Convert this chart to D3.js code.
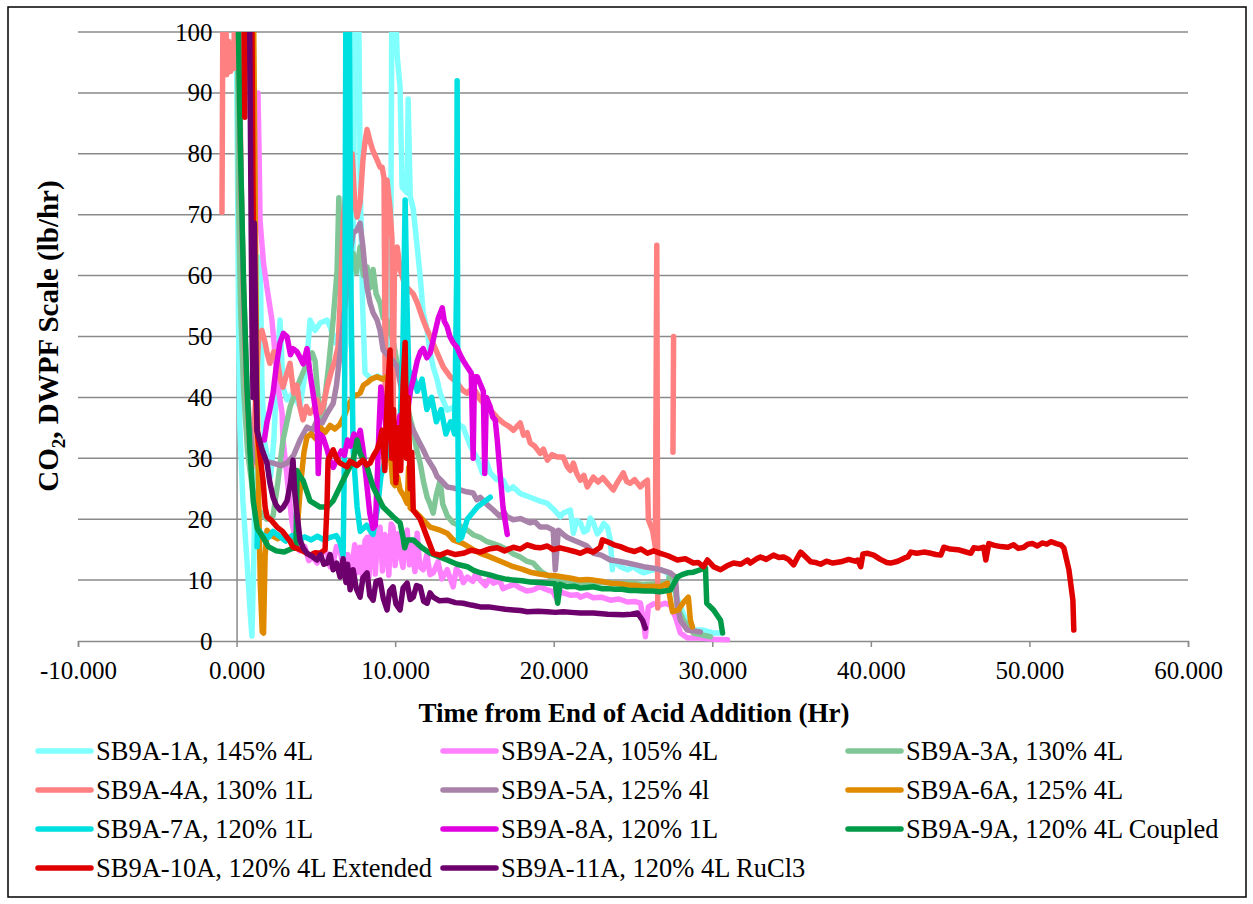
<!DOCTYPE html>
<html>
<head>
<meta charset="utf-8">
<script src="https://cdn.jsdelivr.net/npm/d3@7"></script>
<style>
  html, body { margin: 0; padding: 0; background: #fff; }
  svg { display: block; }
  text { font-family: "Liberation Serif", "Times New Roman", serif; fill: #000; }
</style>
</head>
<body>
<svg id="chart" width="1253" height="904"></svg>
<script>
// ---- data: [hours from end of acid addition, CO2 lb/hr]; 110 = off-scale, null = gap ----
const seriesNames = [
  "SB9A-1A, 145% 4L", "SB9A-2A, 105% 4L", "SB9A-3A, 130% 4L",
  "SB9A-4A, 130% 1L", "SB9A-5A, 125% 4l", "SB9A-6A, 125% 4L",
  "SB9A-7A, 120% 1L", "SB9A-8A, 120% 1L", "SB9A-9A, 120% 4L Coupled",
  "SB9A-10A, 120% 4L Extended", "SB9A-11A, 120% 4L RuCl3"
];
const xTickValues = [-10, 0, 10, 20, 30, 40, 50, 60];
const xTickLabels = ["-10.000", "0.000", "10.000", "20.000", "30.000", "40.000", "50.000", "60.000"];
const yTickValues = [0, 10, 20, 30, 40, 50, 60, 70, 80, 90, 100];

const sb9a1 = [[-0.05,110],[0.05,80],[0.13,50],[0.21,35],[0.4,23],[0.66,13],[0.85,5],[0.97,0.8],[1.1,15],[1.25,45],[1.38,63],[1.5,61],[1.6,42],[1.75,33],[1.95,30],[2.15,27],[2.35,33],[2.55,44],[2.74,52.7],[2.93,41.7],[3.18,39.6],[3.56,40.7],[4.0,38.4],[4.44,46],[4.63,52.7],[4.95,51],[5.27,52.2],[5.71,52.7],[5.9,51.6],[6.2,49],[6.5,51],[6.8,47],[7.1,52],[7.35,65],[7.5,110],[7.68,110],[7.8,75],[7.95,55],[8.1,44],[8.5,43],[8.9,43.5],[9.3,43],[9.6,44],[9.72,60],[9.8,110],[9.95,110],[10.13,96],[10.31,91],[10.44,74.5],[10.76,73.6],[10.82,89],[10.95,73],[11.14,71],[11.39,64.7],[11.58,59.8],[11.77,53.9],[12.02,51],[12.21,47.3],[12.4,45],[12.65,42.9],[12.84,40.7],[13.28,37.9],[13.66,38.4],[14.0,35.5],[14.29,35.1],[14.74,32],[15.18,30],[15.5,27.6],[15.75,29.5],[16.0,27.6],[16.4,26.5],[16.82,26.4],[17.1,24.8],[17.45,25.3],[17.9,24.2],[18.52,23.6],[19.0,23.1],[19.6,22.6],[20.0,21.6],[20.42,20.4],[20.6,21],[21.05,21.5],[21.24,17.7],[21.45,19.8],[21.68,19.4],[21.9,17.9],[22.12,18.2],[22.3,20.2],[22.5,19.4],[22.75,17.6],[22.94,18.2],[23.15,19.3],[23.39,18.7],[23.57,16.6],[23.7,11.7],[23.76,13.3],[24.2,12.2],[24.65,11.7],[25.02,12.2],[25.4,11.5],[25.66,11.2],[26.29,11.7],[26.73,11.7],[27.17,11.2],[27.55,8.9],[27.99,5.6],[28.43,2.9],[28.81,1.8],[29.44,1.8],[30.08,1.3],[30.52,1.3]];

const sb9a2 = [[1.35,90],[1.42,80],[1.48,69],[1.7,62],[1.92,58],[2.23,52.7],[2.42,47.3],[2.61,41.7],[2.87,37.4],[2.93,33],[3.1,29],[3.3,24],[3.5,19.5],[3.75,16],[4.0,14.8],[4.3,15.5],[4.55,13.2],[4.82,13.8],[5.08,12.8],[5.4,14.6],[5.71,14.4],[5.9,12.2],[6.09,12.8],[6.3,15.5],[6.53,15],[6.75,11.5],[7.0,14.2],[7.2,10.8],[7.45,15.8],[7.6,11.2],[7.79,15.4],[7.95,10.2],[8.1,16.5],[8.23,17],[8.35,10.5],[8.5,17.8],[8.61,18.2],[8.75,11],[8.9,18],[9.05,18.7],[9.2,11.5],[9.35,17.5],[9.49,16.6],[9.6,10.8],[9.75,19.2],[9.87,18.7],[10.0,12.4],[10.15,17.6],[10.31,14.4],[10.5,12.1],[10.6,17.1],[10.76,18.2],[10.9,12.5],[11.0,16],[11.14,13.8],[11.25,11.4],[11.39,17.7],[11.55,12.2],[11.77,11.7],[12.0,14.2],[12.2,10.9],[12.4,11.2],[12.7,13],[12.95,10.2],[13.28,11.7],[13.5,10.1],[13.66,8.9],[13.85,11.8],[14.1,11.2],[14.3,9.6],[14.55,10.5],[14.9,9.8],[15.1,11.2],[15.37,10],[15.7,9.1],[15.95,10.3],[16.19,9.5],[16.6,9.9],[16.8,8.6],[17.07,8.9],[17.5,9.3],[17.89,8.7],[18.3,8.2],[18.71,8.4],[19.1,8.9],[19.6,8.4],[19.95,8.1],[20.23,6.7],[20.4,8.2],[20.6,7.9],[21.1,7.5],[21.49,7.6],[21.68,7.2],[22.1,7.6],[22.5,7.1],[23.0,7.2],[23.57,6.7],[24.1,6.9],[24.65,6.4],[25.1,6.5],[25.47,6.2],[25.66,3.4],[25.78,0.7],[25.97,5.6],[26.3,6.1],[26.73,5.9],[27.0,6.2],[27.36,5.9],[27.68,3.9],[27.99,1.3],[28.43,0.5],[29.25,0.5],[30.1,0.3],[30.96,0.2]];

const sb9a3 = [[0.05,110],[0.12,73],[0.25,55],[0.45,41],[0.7,31],[1.0,25],[1.4,21.5],[1.9,20],[2.3,20.5],[2.6,26],[2.93,33],[3.37,38.4],[4.0,42.9],[4.44,45.6],[4.77,47.3],[4.95,46],[5.15,39.6],[5.27,36.3],[5.45,37.4],[5.8,45],[6.09,52.7],[6.34,60.9],[6.45,72.8],[6.55,61],[6.75,63],[6.97,66],[7.15,62],[7.35,63.7],[7.55,60.5],[7.79,64.7],[8.0,60],[8.23,61.4],[8.42,58],[8.61,61],[8.8,57],[9.05,55.5],[9.25,53],[9.49,52.7],[9.7,50.5],[9.87,49.4],[10.1,46],[10.3,44],[10.5,40.5],[10.75,38.5],[10.95,36.5],[11.14,34.6],[11.35,31.5],[11.58,29.2],[11.8,26],[12.02,23.6],[12.2,22.5],[12.4,21],[12.6,24],[12.84,26.4],[13.0,22.5],[13.3,20.5],[13.66,19.4],[14.1,18.9],[14.55,18.2],[14.95,17.4],[15.37,17],[15.8,16.3],[16.19,16],[16.6,15.6],[17.07,15],[17.45,14.3],[17.89,13.8],[18.3,13.1],[18.71,12.8],[19.2,11.4],[19.8,10.5],[20.42,10],[21.0,9.8],[21.7,9.6],[22.5,9.5],[23.3,9.6],[24.1,9.4],[24.9,9.5],[25.7,9.3],[26.5,9.4],[27.17,9.5],[27.36,11],[27.55,10.6],[27.8,5.6],[28.18,3.4],[28.81,1.3],[29.88,0.7]];

const sb9a4 = [[-0.92,70.4],[-0.85,110],[-0.72,110],[-0.62,93],[-0.5,98.5],[-0.38,93.5],[-0.28,97.5],[-0.18,94],[-0.08,110],[0.12,110],[0.28,76],[0.45,55],[0.62,42],[0.8,33],[0.97,28.4],[1.15,37],[1.4,50],[1.6,51],[1.8,49],[1.92,47.3],[2.1,45.6],[2.35,47.5],[2.55,46.6],[2.75,43],[2.93,41.7],[3.18,44],[3.37,45.6],[3.6,40.7],[3.8,42],[4.0,38.4],[4.19,36.3],[4.4,38.5],[4.63,37.4],[4.85,38],[5.08,39.6],[5.27,37.5],[5.45,38.4],[5.71,41.7],[6.0,44.5],[6.2,46],[6.4,48.3],[6.53,55.5],[6.65,63.7],[6.75,70],[6.95,75],[7.16,80],[7.29,80],[7.45,72],[7.6,69.6],[7.79,72],[7.97,79],[8.1,82],[8.23,84],[8.42,82],[8.6,80.5],[8.86,79],[9.05,77.8],[9.18,77.8],[9.3,76],[9.38,38],[9.45,74],[9.49,75.7],[9.68,71],[9.8,66],[9.87,36],[9.95,60],[10.13,64.7],[10.31,61],[10.55,59],[10.76,58],[11.14,57],[11.4,55.5],[11.77,52.7],[12.0,51.2],[12.21,50],[12.45,48.5],[12.65,47.3],[13.03,45],[13.47,43.4],[13.91,42.4],[14.25,41.2],[14.55,40.7],[14.92,41.7],[15.37,39.6],[15.8,38.5],[16.19,37.4],[16.5,36.5],[16.82,35.8],[17.2,35.2],[17.45,34.6],[17.89,35.8],[18.1,33.8],[18.33,34.2],[18.52,32.5],[18.8,32],[19.15,30.8],[19.35,31.5],[19.6,29.7],[19.9,30.6],[20.23,30.2],[20.6,30.2],[20.86,28.6],[21.05,28],[21.24,29.2],[21.45,27.5],[21.68,26.4],[21.9,27.2],[22.12,25.3],[22.5,26.9],[22.8,26.1],[23.1,26.8],[23.39,25.9],[23.76,24.8],[24.0,26],[24.39,27.6],[24.6,26.2],[24.83,25.9],[25.1,26.5],[25.47,25.3],[25.7,26],[25.91,26.4],[25.97,19.9],[26.23,18.2],[26.41,15.4],[26.5,65],[26.56,5.4],[27.0,null],[27.52,31],[27.56,50]];

const sb9a5 = [[0.1,110],[0.2,86],[0.4,62],[0.6,45],[0.8,36],[1.0,31],[1.3,29.2],[1.8,29.5],[2.3,29.2],[2.8,28.8],[3.18,29.2],[3.6,30.5],[4.0,33],[4.44,35.1],[4.8,34.6],[5.08,36.3],[5.4,35.8],[5.71,37.4],[6.09,39],[6.3,42],[6.53,47.3],[6.75,53],[6.97,58],[7.16,63.7],[7.35,67],[7.6,67.5],[7.79,68.6],[7.97,64.7],[8.1,61],[8.23,58],[8.42,55.5],[8.61,53.9],[8.86,52.7],[9.05,51],[9.24,47.8],[9.5,47],[9.87,46],[10.13,45],[10.35,42],[10.55,38.8],[10.8,36.5],[11.14,34.6],[11.45,33],[11.77,31.4],[12.0,30.1],[12.21,29.2],[12.45,28.2],[12.65,27],[13.0,26.1],[13.28,25.3],[13.7,25.1],[14.1,24.8],[14.5,24.5],[14.92,24.3],[15.15,23.2],[15.37,23.6],[15.8,22.4],[16.19,21.5],[16.63,20.4],[16.85,21.2],[17.07,20.4],[17.45,19.9],[17.9,20.1],[18.52,19.4],[18.8,19.6],[19.15,18.7],[19.6,18.7],[19.97,18.2],[20.1,11.7],[20.29,18.2],[20.6,17.5],[20.86,17],[21.3,16.5],[21.68,16.1],[22.1,15.6],[22.5,14.4],[23.0,14.1],[23.57,13.3],[24.1,13.1],[24.65,12.8],[25.2,12.5],[25.66,12.2],[26.2,12],[26.73,11.7],[27.36,11.2],[27.68,10.5],[27.8,5.6],[27.99,3.4],[28.43,1.8],[29.25,1.5]];

const sb9a6 = [[0.95,110],[1.05,110],[1.15,80],[1.25,50],[1.38,25],[1.5,9],[1.62,1.5],[1.7,1.3],[1.8,14],[1.92,18.2],[2.2,17.3],[2.6,16.8],[3.0,17.4],[3.4,16.7],[3.72,17.5],[3.81,18],[4.05,26],[4.25,31],[4.44,33.5],[4.7,34],[5.0,33.2],[5.3,35],[5.6,34.3],[5.9,35.4],[6.2,34.8],[6.5,35.5],[6.8,37],[7.1,39],[7.4,40.2],[7.79,40.7],[8.0,42],[8.23,42.4],[8.5,43],[8.86,43.4],[9.2,43],[9.49,43.4],[9.62,42],[9.72,30],[9.85,26],[10.0,25.5],[10.15,27],[10.31,24.8],[10.55,23.8],[10.76,22.6],[10.85,28.5],[10.95,21.8],[11.14,21.5],[11.58,20.4],[11.9,19.5],[12.21,18.7],[12.84,18.2],[13.28,17.7],[13.66,16.6],[14.29,16],[14.92,15],[15.37,14.4],[15.9,13.9],[16.44,13.3],[16.9,12.8],[17.45,12.2],[18.0,11.8],[18.52,11.3],[19.1,11],[19.6,10.8],[20.1,10.7],[20.6,10.5],[21.1,10.3],[21.68,10],[22.1,10.1],[22.5,10],[23.0,9.8],[23.57,9.5],[24.1,9.4],[24.65,9.2],[25.2,9.1],[25.66,8.9],[26.2,9],[26.73,8.9],[27.17,9.5],[27.36,6.7],[27.49,4.8],[27.87,5.1],[27.99,5.6],[28.2,6.4],[28.49,7.2],[28.62,3.4],[28.75,2.3]];

const sb9a7 = [[1.29,15.5],[1.32,18.5],[1.6,17.5],[2.0,17],[2.3,18],[2.7,17.2],[3.1,16.4],[3.5,17.3],[3.9,16.5],[4.3,17.1],[4.7,16.6],[5.1,17.2],[5.5,16.6],[5.9,17],[6.3,17.3],[6.55,16],[6.72,14],[6.8,30],[6.9,110],[7.1,110],[7.2,60],[7.35,31.4],[7.6,22],[7.8,18],[8.2,19],[8.6,17.5],[8.9,22],[9.1,27],[9.4,30],[9.7,33],[10.0,31],[10.3,34.6],[10.5,50],[10.63,72.4],[10.75,55],[10.9,40],[11.14,44],[11.4,41],[11.7,43],[12.0,38],[12.3,40],[12.6,36],[12.9,38],[13.2,34],[13.5,36],[13.75,34],[13.88,60],[13.91,92],[13.95,40],[14.0,16.6],[14.2,17],[14.55,20],[15.18,22],[16.0,23.6]];

const sb9a8 = [[1.75,33],[1.92,36],[2.1,38],[2.3,40.7],[2.5,45],[2.74,49],[2.95,50.5],[3.18,50],[3.4,47],[3.56,48],[3.8,47.5],[4.0,46.6],[4.2,45.5],[4.44,48],[4.63,44],[4.82,40.7],[5.0,37.5],[5.08,36.3],[5.15,27.5],[5.25,34],[5.45,33.5],[5.7,31.5],[5.9,29.5],[6.1,28.5],[6.35,30],[6.6,31.2],[6.8,30.5],[7.0,33],[7.2,32],[7.4,34],[7.6,33],[7.8,34.6],[8.0,31],[8.2,26],[8.4,21],[8.6,18.5],[8.75,19],[8.86,26],[9.0,36],[9.1,41.7],[9.3,38],[9.49,33],[9.7,36],[9.9,33.5],[10.1,34],[10.3,37],[10.5,34.5],[10.7,36],[10.95,41],[11.15,43],[11.39,46],[11.6,47.5],[11.77,48],[12.0,46.5],[12.21,47.3],[12.45,50],[12.72,53],[12.97,54.7],[13.1,52.5],[13.28,51.6],[13.45,50],[13.66,49],[13.9,48.2],[14.1,47],[14.3,46],[14.55,45],[14.8,44],[14.92,30],[15.0,43.4],[15.18,43.4],[15.37,42.2],[15.56,41],[15.65,27.5],[15.75,40],[16.0,38.4],[16.15,36.8],[16.31,36.3],[16.44,33],[16.6,28],[16.8,22],[17.07,17.5]];

const sb9a9 = [[0.05,110],[0.25,80],[0.45,58],[0.65,42],[0.85,31],[1.05,23],[1.3,18.5],[1.67,17],[2.0,15.5],[2.5,14.8],[3.0,14.6],[3.5,15.2],[3.75,15.3],[3.81,28],[4.0,27],[4.19,26.4],[4.63,23],[5.27,22],[5.71,22],[6.09,23],[6.72,26.4],[7.35,29.7],[7.6,33],[7.79,30.8],[8.23,28.6],[8.61,25.3],[9.24,22],[9.87,20.4],[10.31,19.4],[10.5,17],[10.6,15.3],[10.76,16.6],[11.14,16.6],[11.7,15.3],[12.21,14.4],[12.8,13.8],[13.28,13.3],[13.9,12.6],[14.55,12.2],[14.95,11.6],[15.37,11.2],[15.9,10.9],[16.44,10.5],[16.9,10.2],[17.45,10],[18.0,9.9],[18.52,9.7],[19.1,9.6],[19.6,9.5],[20.1,9.4],[20.25,6.2],[20.4,9.3],[20.86,8.9],[21.3,9],[21.68,8.7],[22.1,8.8],[22.5,8.9],[23.0,8.6],[23.4,8.6],[23.9,8.5],[24.3,8.5],[24.8,8.3],[25.2,8.3],[25.7,8.2],[26.2,8.2],[26.7,8.1],[27.17,8.3],[27.36,8.4],[27.8,10.5],[28.1,10.9],[28.43,11.2],[28.81,11.3],[29.25,11.7],[29.57,12],[29.65,6.2],[30.08,5.1],[30.52,3.4],[30.65,1.3]];

const sb9a10 = [[0.45,110],[0.52,86],[0.58,110],[0.95,110],[1.03,75],[1.1,55],[1.2,42],[1.29,34.6],[1.5,30],[1.67,26.4],[1.8,22],[1.92,20.4],[2.2,19.8],[2.55,18.7],[2.9,18],[3.18,17],[3.35,16.5],[3.56,15.4],[4.0,15],[4.3,14.6],[4.63,14.1],[4.95,14.5],[5.27,14.4],[5.58,15],[5.7,22],[5.77,29.7],[6.09,31.4],[6.3,30],[6.53,29.2],[6.97,28.6],[7.15,29.5],[7.35,29.2],[7.6,28.8],[7.97,29.7],[8.2,28.9],[8.42,29.2],[8.65,30.5],[8.86,31.4],[9.05,33],[9.18,34.6],[9.35,28],[9.5,40],[9.68,47.8],[9.78,30],[9.9,38],[10.05,26],[10.2,35],[10.35,28],[10.5,42],[10.63,49],[10.72,30],[10.82,40],[10.95,25],[11.05,31],[11.14,21.5],[11.58,20],[12.02,17],[12.4,14.4],[12.84,14.1],[13.3,14.6],[13.8,14.2],[14.29,14.4],[14.8,14.9],[15.37,14.6],[15.9,15.1],[16.44,15.3],[16.9,14.8],[17.45,15.4],[17.9,15.1],[18.33,15.8],[18.8,15.4],[19.15,15.3],[19.6,15.6],[19.97,15],[20.4,15.3],[20.86,15],[21.3,14.7],[21.68,14.4],[22.1,14.9],[22.5,14.6],[22.94,15.4],[23.07,16.6],[23.39,16.3],[23.8,15.8],[24.2,15.5],[24.65,15],[25.1,14.7],[25.5,15.1],[25.91,14.4],[26.3,14.8],[26.73,14.4],[27.2,14],[27.8,13.3],[28.3,13.5],[28.81,12.8],[29.1,12.9],[29.44,12.2],[29.7,13.3],[30.08,12.2],[30.52,11.7],[30.9,12.3],[31.34,12.8],[31.8,12.6],[32.22,13.3],[32.4,12.8],[32.8,13.5],[33.04,13.8],[33.4,13.4],[33.86,14.1],[34.2,13.7],[34.5,13.8],[34.8,13.4],[35.13,12.5],[35.35,13.6],[35.57,14.6],[35.85,13.9],[36.2,13],[36.5,12.9],[36.83,12.6],[37.2,13.1],[37.6,12.8],[38.1,13],[38.6,13.4],[39.0,13.1],[39.17,13.3],[39.36,12.2],[39.5,14.3],[39.8,14.4],[40.18,14.1],[40.6,13.4],[41.0,12.9],[41.25,12.8],[41.7,13.1],[42.1,13.6],[42.33,13.8],[42.52,14.6],[42.9,14.4],[43.34,14.6],[43.8,14.4],[44.1,14.2],[44.41,14.1],[44.6,15.4],[45.0,15.1],[45.48,15],[45.9,14.7],[46.3,14.4],[46.49,15.3],[46.8,15.2],[47.12,15.4],[47.25,13.3],[47.44,16],[47.8,15.7],[48.2,15.5],[48.64,15.4],[49.0,15.8],[49.3,15.2],[49.65,15.4],[49.9,15.9],[50.21,16],[50.5,15.6],[50.8,16.1],[51.1,15.9],[51.35,16.3],[51.7,16.0],[51.98,15.8],[52.17,15.3],[52.49,11.7],[52.74,6.7],[52.8,1.8]];

const sb9a11 = [[0.8,110],[0.9,75],[0.97,52],[1.04,40],[1.12,68.6],[1.2,52],[1.29,34.6],[1.6,31.5],[1.92,29.2],[2.1,26],[2.3,23.6],[2.5,22.3],[2.74,21.5],[2.95,22],[3.18,23],[3.4,26],[3.5,28.5],[3.56,29.7],[3.68,24],[3.81,21],[4.0,16.6],[4.2,15.3],[4.44,14.4],[4.7,14],[5.08,13.3],[5.3,14.2],[5.5,12.6],[5.71,12.8],[5.9,14.2],[6.09,11.7],[6.3,12.8],[6.53,10.5],[6.72,13.5],[6.9,9.6],[7.0,12.6],[7.16,8.4],[7.35,11.7],[7.55,8.6],[7.79,7.2],[7.97,10.4],[8.23,11.2],[8.4,7.5],[8.61,6.7],[8.8,9.8],[9.05,10],[9.25,7],[9.49,5.1],[9.65,8.2],[9.87,8.9],[10.05,6.1],[10.31,5.1],[10.5,8.7],[10.76,9.5],[10.95,6.8],[11.14,7.2],[11.35,9.1],[11.58,8.9],[11.8,6.5],[12.02,6.2],[12.2,7.9],[12.4,7.2],[12.8,6.6],[13.28,6.7],[13.8,6.3],[14.29,6.2],[14.8,5.9],[15.37,5.6],[15.9,5.6],[16.44,5.4],[16.95,5.2],[17.45,5.1],[17.9,5],[18.33,4.8],[19.0,4.9],[19.6,4.8],[20.1,4.7],[20.6,4.8],[21.1,4.7],[21.68,4.6],[22.5,4.6],[23.4,4.4],[24.39,4.3],[24.9,4.4],[25.28,4.6],[25.6,3.4],[25.78,2.1]];

const seriesData = [sb9a1, sb9a2, sb9a3, sb9a4, sb9a5, sb9a6, sb9a7, sb9a8, sb9a9, sb9a10, sb9a11];

// ---- styling ----
const seriesColors = ["#80ffff", "#ff80ff", "#80c697", "#ff8080", "#a882a8", "#e08a00",
                      "#00e0e0", "#e000e0", "#009b48", "#e00000", "#6e006e"];
const gridColor = "#8a8a8a";
const serif = "'Liberation Serif','Times New Roman',serif";

const svg = d3.select("#chart");
const W = 1253, H = 904;
const plot = { left: 78, right: 1188, top: 32, bottom: 641 };

svg.append("rect").attr("width", W).attr("height", H).attr("fill", "#fff");
svg.append("rect")
  .attr("x", 8).attr("y", 7).attr("width", 1238).attr("height", 890)
  .attr("fill", "none").attr("stroke", "#000").attr("stroke-width", 1.5);

const x = d3.scaleLinear().domain([-10, 60]).range([plot.left, plot.right]);
const y = d3.scaleLinear().domain([0, 100]).range([plot.bottom, plot.top]);

// horizontal gridlines
svg.append("g").selectAll("line").data(yTickValues.filter(v => v > 0)).join("line")
  .attr("x1", plot.left).attr("x2", plot.right)
  .attr("y1", d => y(d)).attr("y2", d => y(d))
  .attr("stroke", gridColor).attr("stroke-width", 1.5);

// x axis along y = 0
const xAxis = d3.axisBottom(x).tickValues(xTickValues)
  .tickFormat((d, i) => xTickLabels[i]).tickSize(6).tickPadding(14);
const gx = svg.append("g").attr("transform", `translate(0,${y(0)})`).call(xAxis);
gx.select(".domain").attr("stroke", gridColor).attr("stroke-width", 1.5);
gx.selectAll(".tick line").attr("stroke", gridColor).attr("stroke-width", 1.5);
gx.selectAll(".tick text").attr("font-size", 25)
  .attr("font-family", serif).attr("fill", "#000");

// y axis along x = 0, labels sit to its left over the gridlines
const yAxis = d3.axisLeft(y).tickValues(yTickValues).tickSize(0).tickPadding(24);
const gy = svg.append("g").attr("transform", `translate(${x(0)},0)`).call(yAxis);
gy.select(".domain").attr("stroke", gridColor).attr("stroke-width", 1.5);
gy.selectAll(".tick text").attr("font-size", 25)
  .attr("font-family", serif).attr("fill", "#000");

// data lines
svg.append("defs").append("clipPath").attr("id", "plotClip")
  .append("rect").attr("x", plot.left).attr("y", plot.top)
  .attr("width", plot.right - plot.left).attr("height", plot.bottom - plot.top + 4);

const line = d3.line()
  .defined(d => d[1] !== null)
  .x(d => x(d[0])).y(d => y(d[1]));

svg.append("g").attr("clip-path", "url(#plotClip)")
  .selectAll("path").data(seriesData).join("path")
  .attr("d", line)
  .attr("fill", "none")
  .attr("stroke", (d, i) => seriesColors[i])
  .attr("stroke-width", 5.5)
  .attr("stroke-linejoin", "round")
  .attr("stroke-linecap", "round");

// axis titles
svg.append("text")
  .attr("x", 634).attr("y", 722)
  .attr("text-anchor", "middle").attr("font-size", 27).attr("font-weight", "bold")
  .text("Time from End of Acid Addition (Hr)");

const yTitle = svg.append("text")
  .attr("transform", "translate(58,336) rotate(-90)")
  .attr("text-anchor", "middle").attr("font-size", 29).attr("font-weight", "bold");
yTitle.append("tspan").text("CO");
yTitle.append("tspan").attr("font-size", 19).attr("dy", 7).text("2");
yTitle.append("tspan").attr("dy", -7).text(", DWPF Scale (lb/hr)");

// legend: three columns, row-major order
const legendCols = [38, 443, 848];
const legendRows = [751, 790, 829, 868];
const legend = svg.append("g").selectAll("g").data(seriesNames).join("g")
  .attr("transform", (d, i) => `translate(${legendCols[i % 3]},${legendRows[Math.floor(i / 3)]})`);
legend.append("line")
  .attr("x1", 0).attr("x2", 53).attr("y1", 0).attr("y2", 0)
  .attr("stroke", (d, i) => seriesColors[i]).attr("stroke-width", 5.5)
  .attr("stroke-linecap", "round");
legend.append("text")
  .attr("x", 58).attr("y", 0).attr("dy", "0.35em")
  .attr("font-size", 26.5).text(d => d);
</script>
</body>
</html>
